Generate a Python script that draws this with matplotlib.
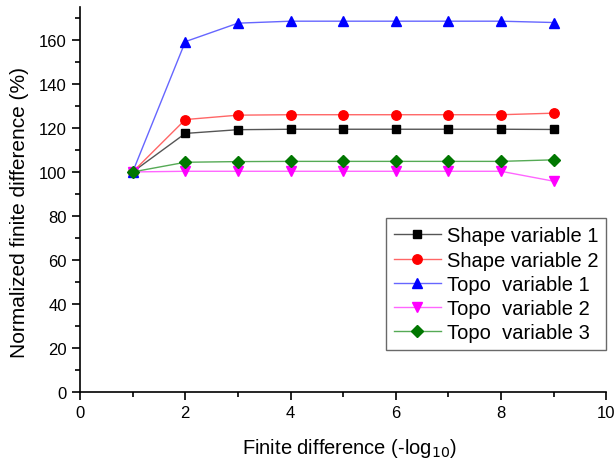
import matplotlib
matplotlib.use("Agg")
import matplotlib.pyplot as plt
from matplotlib.ticker import MultipleLocator

plt.rcParams['font.family'] = ['Liberation Sans', 'DejaVu Sans']

x = [1, 2, 3, 4, 5, 6, 7, 8, 9]
shape1 = [100, 117.5, 119.2, 119.4, 119.4, 119.4, 119.4, 119.4, 119.3]
shape2 = [100, 123.8, 125.8, 126.0, 126.0, 126.0, 126.0, 126.0, 126.7]
topo1 = [100, 159.2, 167.6, 168.5, 168.5, 168.5, 168.5, 168.5, 167.9]
topo2 = [100, 100.3, 100.3, 100.3, 100.3, 100.3, 100.3, 100.3, 95.8]
topo3 = [100, 104.4, 104.7, 104.8, 104.8, 104.8, 104.8, 104.8, 105.5]

labels = ["Shape variable 1", "Shape variable 2", "Topo  variable 1",
          "Topo  variable 2", "Topo  variable 3"]

fig = plt.figure(figsize=(6.16, 4.64), dpi=100)
ax = fig.add_axes([0.130, 0.153, 0.854, 0.830])

styles = [
    (shape1, '#000000', 's', 6.3, '#555555'),
    (shape2, '#ff0000', 'o', 6.8, '#ff6666'),
    (topo1, '#0000ff', '^', 7.5, '#6666ff'),
    (topo2, '#ff00ff', 'v', 7.5, '#ff66ff'),
    (topo3, '#007700', 'D', 6.3, '#55aa55'),
]
for (y, c, m, ms, lc), lab in zip(styles, labels):
    ax.plot(x, y, color=lc, lw=1.0, marker=m, markersize=ms,
            markerfacecolor=c, markeredgecolor=c, label=lab)

ax.set_xlim(0, 10)
ax.set_ylim(0, 175)
ax.xaxis.set_major_locator(MultipleLocator(2))
ax.xaxis.set_minor_locator(MultipleLocator(1))
ax.yaxis.set_major_locator(MultipleLocator(20))
ax.yaxis.set_minor_locator(MultipleLocator(10))
for s in ['top', 'right']:
    ax.spines[s].set_visible(False)
for s in ['left', 'bottom']:
    ax.spines[s].set_linewidth(1.2)
ax.tick_params(which='major', direction='out', length=6, width=1.2, labelsize=12)
ax.tick_params(which='minor', direction='out', length=3.5, width=1.2)

ax.set_xlabel("Finite difference (-log$_{10}$)", fontsize=14.5)
ax.set_ylabel("Normalized finite difference (%)", fontsize=15)
ax.xaxis.set_label_coords(0.513, -0.115)
ax.yaxis.set_label_coords(-0.098, 0.47)

leg = ax.legend(loc='lower right', bbox_to_anchor=(1.0, 0.108), fontsize=14.5,
                frameon=True, fancybox=False, edgecolor='#444444',
                handlelength=2.3, borderpad=0.4, labelspacing=0.26,
                handletextpad=0.3, borderaxespad=0.0)
leg.get_frame().set_linewidth(1.0)

fig.savefig("out.png", dpi=100)
